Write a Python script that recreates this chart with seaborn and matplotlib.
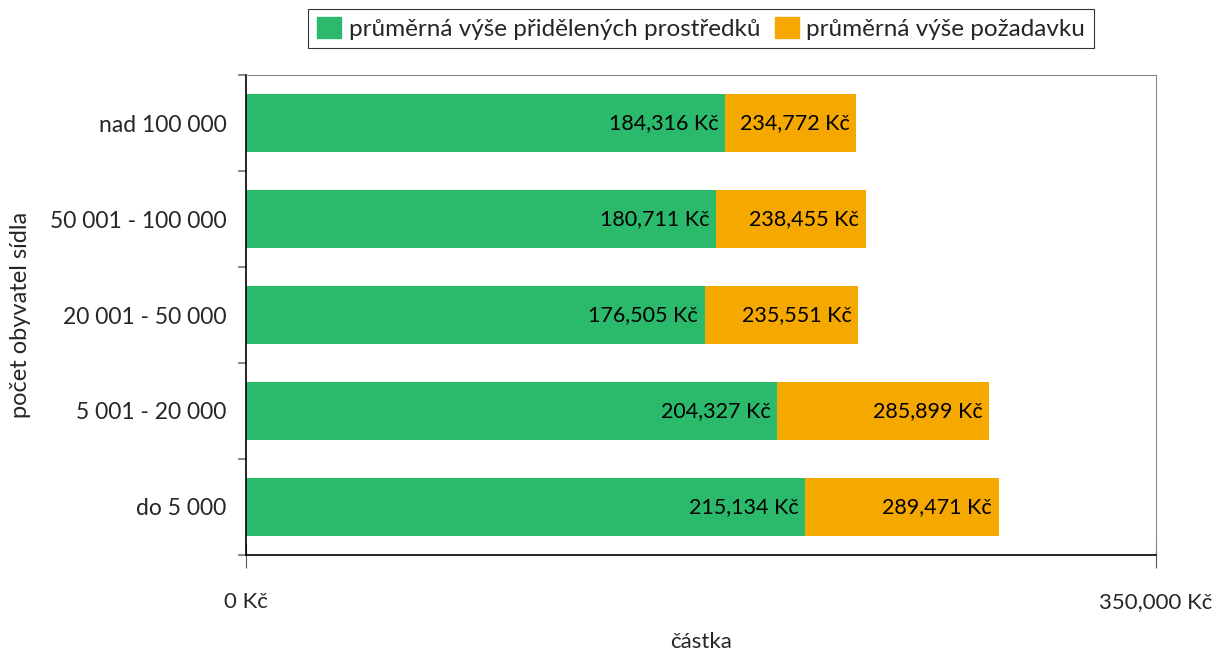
import numpy as np
import pandas as pd
import matplotlib
matplotlib.use("Agg")
import matplotlib.pyplot as plt
import matplotlib.patches as mpatches
from matplotlib.ticker import FixedLocator
import seaborn as sns

sns.set_theme(style="white")
plt.rcParams["font.family"] = ["Lato", "DejaVu Sans"]

categories = ["nad 100 000", "50 001 - 100 000", "20 001 - 50 000", "5 001 - 20 000", "do 5 000"]
granted = [184316, 180711, 176505, 204327, 215134]
requested = [234772, 238455, 235551, 285899, 289471]
granted_label = "průměrná výše přidělených prostředků"
requested_label = "průměrná výše požadavku"

green = "#2bb96b"
orange = "#f5a800"

df = pd.DataFrame({"kategorie": categories, "granted": granted, "requested": requested})

fig = plt.figure(figsize=(12.21, 6.53), dpi=100)
ax = fig.add_axes([0.2015, 0.1501, 0.7453, 0.735])

# overlapping bars: request behind, granted in front
sns.barplot(data=df, x="requested", y="kategorie", orient="h", color=orange,
            saturation=1, width=0.6, linewidth=0, ax=ax)
sns.barplot(data=df, x="granted", y="kategorie", orient="h", color=green,
            saturation=1, width=0.6, linewidth=0, ax=ax)

def kc(v):
    return f"{v:,.0f} Kč"

for i, (g, r) in enumerate(zip(granted, requested)):
    ax.annotate(kc(g), (g, i), xytext=(-5, 0), textcoords="offset points",
                ha="right", va="center", fontsize=15.5, color="black")
    ax.annotate(kc(r), (r, i), xytext=(-5, 0), textcoords="offset points",
                ha="right", va="center", fontsize=15.5, color="black")

ax.set_xlim(0, 350000)
ax.set_ylim(len(categories) - 0.5, -0.5)
ax.set_xticks([0, 350000])
ax.set_xticklabels([kc(0), kc(350000)], fontsize=16)
ax.tick_params(axis="x", which="major", direction="inout", length=18, width=0.8,
               color="#555555", pad=18, bottom=True)
ax.set_yticks(range(len(categories)))
ax.set_yticklabels(categories, fontsize=16.5)
ax.tick_params(axis="y", which="major", length=0, pad=14)
ax.yaxis.set_minor_locator(FixedLocator(np.arange(-0.5, len(categories), 1.0)))
ax.tick_params(axis="y", which="minor", left=True, length=6, width=1.2, color="#777777")

ax.set_xlabel("částka", fontsize=16, labelpad=14)
ax.set_ylabel("počet obyvatel sídla", fontsize=17, labelpad=14)

for side in ["left", "bottom"]:
    ax.spines[side].set_color("black")
    ax.spines[side].set_linewidth(1.2)
for side in ["top", "right"]:
    ax.spines[side].set_color("#888888")
    ax.spines[side].set_linewidth(0.8)

handles = [mpatches.Patch(color=green, label=granted_label),
           mpatches.Patch(color=orange, label=requested_label)]
leg = ax.legend(handles=handles, loc="lower center", bbox_to_anchor=(0.5, 1.03),
                ncol=2, fontsize=17.5, frameon=True, fancybox=False,
                handlelength=1.0, handleheight=0.9, handletextpad=0.3,
                columnspacing=0.6, borderpad=0.35)
leg.get_frame().set_edgecolor("black")
leg.get_frame().set_linewidth(0.8)

fig.savefig("out.png", dpi=100)
